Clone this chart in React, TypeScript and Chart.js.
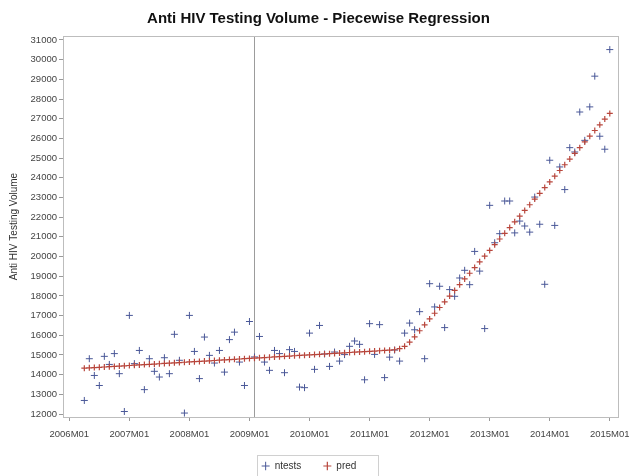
import React, { useEffect, useRef } from 'react';
import { Chart, registerables } from 'chart.js';

Chart.register(...registerables);

const titleText = 'Anti HIV Testing Volume - Piecewise Regression';
const yAxisTitle = 'Anti HIV Testing Volume';
const seriesNames = ['ntests', 'pred'];

// month index 0 = 2006M01; data starts at 2006M04
const startMonth = 3;
const refLineMonth = 37; // vertical reference line (2009M02)

const tickLabels = [
  '2006M01', '2007M01', '2008M01', '2009M01', '2010M01',
  '2011M01', '2012M01', '2013M01', '2014M01', '2015M01',
];

const yTicks = [
  12000, 13000, 14000, 15000, 16000, 17000, 18000, 19000, 20000, 21000,
  22000, 23000, 24000, 25000, 26000, 27000, 28000, 29000, 30000, 31000,
];

const ntests = [
  12690, 14810, 13960, 13450, 14930, 14520, 15070, 14050, 12130, 17010,
  14560, 15230, 13240, 14810, 14170, 13880, 14860, 14050, 16050, 14730,
  12050, 17010, 15180, 13800, 15910, 14980, 14590, 15230, 14130, 15780,
  16160, 14640, 13450, 16700, 14900, 15940, 14640, 14220, 15230, 15070,
  14100, 15270, 15180, 13370, 13340, 16110, 14270, 16500, 15050, 14420,
  15150, 14690, 15020, 15440, 15710, 15540, 13740, 16590, 15030, 16540,
  13850, 14890, 15250, 14690, 16110, 16620, 16280, 17200, 14810, 18620,
  17440, 18490, 16390, 18320, 17980, 18910, 19300, 18570, 20260, 19260,
  16340, 22600, 20700, 21160, 22820, 22820, 21200, 21800, 21550, 21240,
  23020, 21640, 18590, 24890, 21580, 24550, 23400, 25530, 25310, 27340,
  25900, 27600, 29160, 26110, 25450, 30510,
];

const pred = [
  14330, 14345, 14360, 14375, 14390, 14405, 14420, 14435, 14450, 14465,
  14480, 14495, 14510, 14525, 14540, 14555, 14570, 14585, 14600, 14615,
  14630, 14645, 14660, 14675, 14690, 14705, 14720, 14735, 14750, 14765,
  14780, 14795, 14810, 14825, 14840, 14855, 14870, 14885, 14900, 14915,
  14930, 14945, 14960, 14975, 14990, 15005, 15020, 15035, 15050, 15065,
  15080, 15095, 15110, 15125, 15140, 15155, 15170, 15185, 15200, 15215,
  15230, 15245, 15265, 15320, 15440, 15650, 15920, 16230, 16530, 16830,
  17120, 17410, 17700, 17990, 18280, 18570, 18860, 19150, 19440, 19730,
  20020, 20310, 20600, 20890, 21180, 21470, 21760, 22050, 22340, 22630,
  22920, 23210, 23500, 23790, 24080, 24370, 24660, 24950, 25240, 25530,
  25820, 26110, 26400, 26690, 26980, 27270,
];

const FONT = '"Liberation Sans", Arial, sans-serif';

const decorPlugin = {
  id: 'decor',
  beforeLayout(chart: any) {
    const lg = chart.legend;
    if (lg && !lg.__fixedFit) {
      const orig = lg.fit.bind(lg);
      lg.fit = function () {
        orig();
        this.height = 36;
      };
      lg.__fixedFit = true;
    }
  },
  afterLayout(chart: any) {
    const tb = chart.titleBlock;
    if (tb) {
      tb.left += 19;
    }
  },
  beforeDatasetsDraw(chart: any) {
    const { ctx, chartArea: a, scales } = chart;
    const x = Math.round(scales.x.getPixelForValue(refLineMonth)) + 0.5;
    ctx.save();
    ctx.strokeStyle = '#9c9c9c';
    ctx.lineWidth = 1;
    ctx.beginPath();
    ctx.moveTo(x, a.top);
    ctx.lineTo(x, a.bottom);
    ctx.stroke();
    ctx.restore();
  },
  afterDraw(chart: any) {
    const { ctx, chartArea: a, legend } = chart;
    ctx.save();
    ctx.strokeStyle = '#bdbdbd';
    ctx.lineWidth = 1;
    ctx.strokeRect(Math.round(a.left) + 0.5, Math.round(a.top) + 0.5,
      Math.round(a.right - a.left), Math.round(a.bottom - a.top));
    const hb = legend && legend.legendHitBoxes;
    if (hb && hb.length) {
      const first = hb[0];
      const last = hb[hb.length - 1];
      const l = Math.round(first.left - 5) + 0.5;
      const r = Math.round(last.left + last.width + 22) + 0.5;
      const t = Math.round(first.top - 6) + 0.5;
      ctx.strokeStyle = '#d0d0d0';
      ctx.strokeRect(l, t, r - l, 40);
    }
    ctx.restore();
  },
};

export default function App() {
  const ref = useRef<HTMLCanvasElement | null>(null);

  useEffect(() => {
    if (!ref.current) return;
    const ntestsData = ntests.map((v, i) => ({ x: startMonth + i, y: v }));
    const predData = pred.map((v, i) => ({ x: startMonth + i, y: v }));
    const chart = new Chart(ref.current, {
      type: 'scatter',
      data: {
        datasets: [
          {
            label: seriesNames[0],
            data: ntestsData,
            pointStyle: 'cross',
            pointRadius: 3.5,
            borderWidth: 1,
            borderColor: '#4a5898',
            backgroundColor: '#4a5898',
            order: 1,
          },
          {
            label: seriesNames[1],
            data: predData,
            pointStyle: 'cross',
            pointRadius: 3,
            borderWidth: 1.2,
            borderColor: '#b8463c',
            backgroundColor: '#b8463c',
            order: 0,
          },
        ],
      },
      options: {
        animation: false,
        responsive: false,
        devicePixelRatio: 1,
        layout: { padding: { left: 0, right: 11, top: 0, bottom: 1 } },
        plugins: {
          title: {
            display: true,
            text: titleText,
            color: '#111',
            font: { family: '"Liberation Sans Narrow", "Liberation Sans", Arial, sans-serif', size: 15, weight: 'bold' },
            padding: { top: 10, bottom: 8 },
          },
          legend: {
            position: 'bottom',
            labels: {
              sort: (a: any, b: any) => a.datasetIndex - b.datasetIndex,
              usePointStyle: true,
              pointStyleWidth: 8,
              boxHeight: 6,
              color: '#333',
              font: { family: FONT, size: 10 },
              padding: 22,
            },
          },
          tooltip: { enabled: false },
        },
        scales: {
          x: {
            type: 'linear',
            min: -1.26,
            max: 109.64,
            ticks: {
              stepSize: 12,
              includeBounds: false,
              autoSkip: false,
              maxRotation: 0,
              padding: 8,
              color: '#444',
              font: { family: FONT, size: 9.5 },
              callback: (v: any) => tickLabels[Math.round(Number(v) / 12)] ?? '',
            },
            grid: { display: true, drawOnChartArea: false, drawTicks: true, tickLength: 4, color: '#9a9a9a' },
            border: { display: false },
            afterFit: (s: any) => { s.height = 22; s.paddingLeft = 0; s.paddingRight = 0; },
          },
          y: {
            type: 'linear',
            min: 11850,
            max: 31200,
            afterBuildTicks: (s: any) => { s.ticks = yTicks.map((v) => ({ value: v })); },
            ticks: {
              autoSkip: false,
              padding: 2,
              color: '#444',
              font: { family: FONT, size: 9.5 },
              callback: (v: any) => String(v),
            },
            title: {
              display: true,
              text: yAxisTitle,
              color: '#333',
              font: { family: FONT, size: 10 },
              padding: { top: 8, bottom: 4 },
            },
            grid: { display: true, drawOnChartArea: false, drawTicks: true, tickLength: 4, color: '#9a9a9a' },
            border: { display: false },
            afterFit: (s: any) => { s.width = 63; s.paddingTop = 0; s.paddingBottom = 0; },
          },
        },
      },
      plugins: [decorPlugin],
    } as any);
    return () => chart.destroy();
  }, []);

  return (
    <div style={{ position: 'fixed', left: 0, top: 0, width: 629, height: 476, background: '#fff' }}>
      <canvas ref={ref} width={629} height={476} />
    </div>
  );
}
